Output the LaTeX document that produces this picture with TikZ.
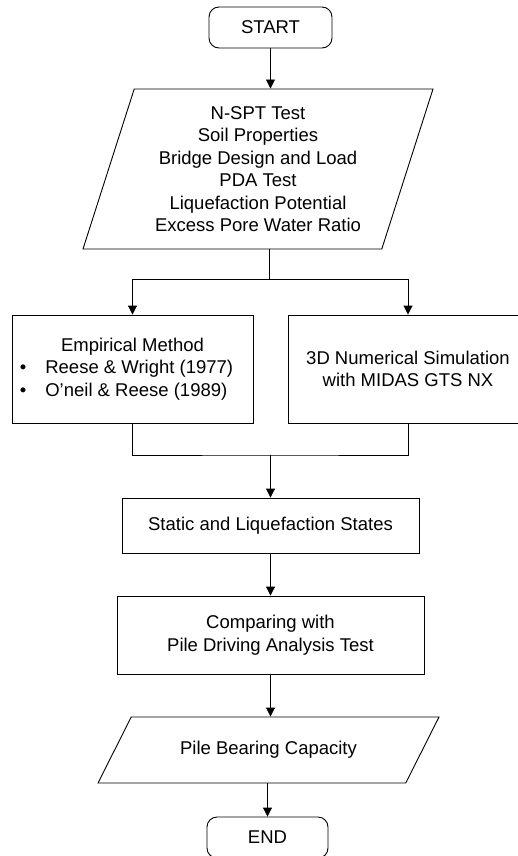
\documentclass[tikz,border=0pt]{standalone}
\usepackage{fontspec}
\setmainfont{Liberation Sans}
\usetikzlibrary{positioning,arrows.meta,shapes.geometric}

\begin{document}
\begin{tikzpicture}[
        x=1pt, y=-1pt,
        font=\fontsize{18.5}{22.5}\selectfont,
        line width=0.9pt,
        every node/.style={align=center},
        terminal/.style={draw,rounded corners=10pt,minimum width=123pt,minimum height=41pt,inner sep=0pt},
        process/.style={draw,inner sep=0pt},
        io/.style={draw,trapezium,trapezium stretches body,inner xsep=0pt},
        link/.style={-{Triangle[length=9pt,width=9pt]}}]
    \path[use as bounding box,clip] (0,0) rectangle (518,856);

    \node[terminal] (start) at (270.5,27.5) {START};
    \node[io,trapezium left angle=72,trapezium right angle=108,inner ysep=16pt,
          minimum width=350pt,minimum height=160pt] (data) at (258,169)
        {N-SPT Test\\Soil Properties\\Bridge Design and Load\\PDA Test\\Liquefaction Potential\\Excess Pore Water Ratio};
    \node[process,minimum width=241pt,minimum height=108pt] (emp) at (132.5,369)
        {\begin{tabular}{@{}l@{\hspace{19pt}}l@{\hspace{12pt}}}
         \multicolumn{2}{@{}c@{}}{Empirical Method}\\
         \textbullet & Reese \& Wright (1977)\\
         \textbullet & O’neil \& Reese (1989)
         \end{tabular}};
    \node[process,minimum width=240pt,minimum height=108pt] (num) at (408,369)
        {3D Numerical Simulation\\with MIDAS GTS NX};
    \node[process,minimum width=297pt,minimum height=55pt] (states) at (270.5,525.5)
        {Static and Liquefaction States};
    \node[process,minimum width=307pt,minimum height=78pt] (comp) at (270.5,635)
        {Comparing with\\Pile Driving Analysis Test};
    \node[io,trapezium left angle=63,trapezium right angle=117,inner ysep=24pt,
          minimum width=341pt,minimum height=66pt] (cap) at (268.5,750)
        {Pile Bearing Capacity};
    \node[terminal,minimum width=121pt] (stop) at (267.5,837.5) {END};

    % split to both methods, then merge again
    \coordinate (fork) at (269,279);
    \coordinate (join) at (270.5,455);

    \draw[link] (start) -- (start |- data.north);
    \draw (fork |- data.south) -- (fork);
    \draw[link] (fork) -| (emp);
    \draw[link] (fork) -| (num);
    \draw (emp) |- (join) -| (num);
    \draw[link] (join) -- (states);
    \draw[link] (states) -- (comp);
    \draw[link] (comp) -- (comp |- cap.north);
    \draw[link] (stop |- cap.south) -- (stop);
\end{tikzpicture}
\end{document}
